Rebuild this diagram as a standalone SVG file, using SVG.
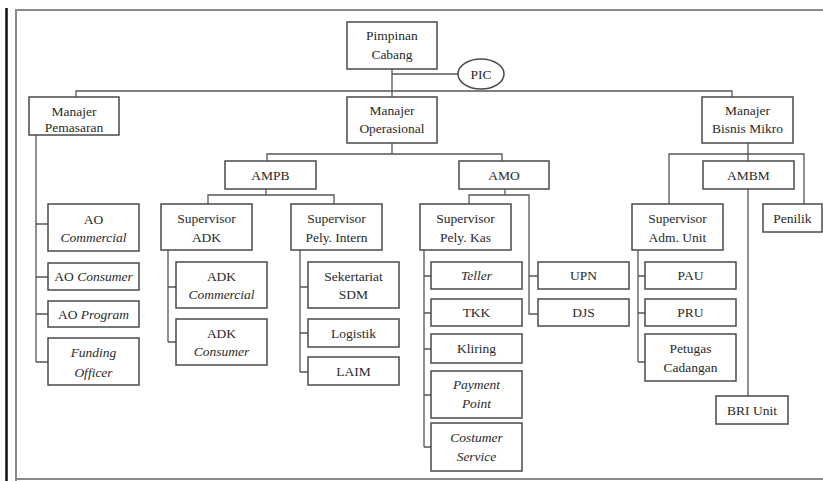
<svg xmlns="http://www.w3.org/2000/svg" width="823" height="481" viewBox="0 0 823 481">
<style>
.b{fill:#fff;stroke:#4a4a4a;stroke-width:1.5}
.t{font-family:'Liberation Serif','DejaVu Serif',serif;font-size:13.5px;fill:#2a2a2a;text-anchor:middle}
.i{font-style:italic}
.c{fill:none;stroke:#555;stroke-width:1.3}
</style>
<rect x="0" y="0" width="823" height="481" fill="#fff"/>
<line x1="6.5" y1="8" x2="6.5" y2="481" stroke="#111" stroke-width="2.5"/>
<path d="M16,481 V10 H830 M16,479 H830" fill="none" stroke="#8a8a8a" stroke-width="2"/>
<g id="connectors" class="c">
<path d="M392,69 V97 M392,74 H458"/>
<path d="M76,97 V91 H732 V97"/>
<path d="M392,143 V154 M267,161 V154 H502 V161"/>
<path d="M266,189 V195 M208,204 V195 H334 V204"/>
<path d="M505,189 V195 M469,204 V195 H529 V314 H538 M529,276 H538"/>
<path d="M748,143 V161 M669,204 V154 H804 V204 M748,189 V396"/>
<path d="M36,135 V362 M36,224 H48 M36,277 H48 M36,314 H48 M36,362 H48"/>
<path d="M168,250 V342 M168,287 H176 M168,342 H176"/>
<path d="M300,250 V372 M300,287 H308 M300,333 H308 M300,372 H308"/>
<path d="M424,250 V447 M424,276 H431 M424,313 H431 M424,349 H431 M424,395 H431 M424,447 H431"/>
<path d="M638,250 V362 M638,276 H645 M638,313 H645 M638,362 H645"/>
</g>
<g id="pimpinan"><rect class="b" x="347" y="22" width="90" height="47"/><text class="t" x="392" y="40">Pimpinan</text><text class="t" x="392" y="59">Cabang</text></g>
<g id="pic"><ellipse class="b" cx="481" cy="74" rx="23" ry="15"/><text class="t" x="481" y="78.5">PIC</text></g>
<g id="manajer-pemasaran"><rect class="b" x="29" y="97" width="90" height="38"/><text class="t" x="74" y="116">Manajer</text><text class="t" x="74" y="132">Pemasaran</text></g>
<g id="manajer-operasional"><rect class="b" x="347" y="97" width="90" height="46"/><text class="t" x="392" y="114.5">Manajer</text><text class="t" x="392" y="133">Operasional</text></g>
<g id="manajer-bisnis-mikro"><rect class="b" x="702" y="97" width="91" height="46"/><text class="t" x="747.5" y="114.5">Manajer</text><text class="t" x="747.5" y="133">Bisnis Mikro</text></g>
<g id="ampb"><rect class="b" x="225" y="161" width="91" height="28"/><text class="t" x="270.5" y="179.5">AMPB</text></g>
<g id="amo"><rect class="b" x="459" y="161" width="90" height="28"/><text class="t" x="504" y="179.5">AMO</text></g>
<g id="ambm"><rect class="b" x="703" y="161" width="91" height="28"/><text class="t" x="748.5" y="179.5">AMBM</text></g>
<g id="sup-adk"><rect class="b" x="161" y="204" width="91" height="46"/><text class="t" x="206.5" y="222.5">Supervisor</text><text class="t" x="206.5" y="241.5">ADK</text></g>
<g id="sup-pely-intern"><rect class="b" x="291" y="204" width="91" height="46"/><text class="t" x="336.5" y="222.5">Supervisor</text><text class="t" x="336.5" y="241.5">Pely. Intern</text></g>
<g id="sup-pely-kas"><rect class="b" x="420" y="204" width="91" height="46"/><text class="t" x="465.5" y="222.5">Supervisor</text><text class="t" x="465.5" y="241.5">Pely. Kas</text></g>
<g id="sup-adm-unit"><rect class="b" x="632" y="204" width="91" height="46"/><text class="t" x="677.5" y="222.5">Supervisor</text><text class="t" x="677.5" y="241.5">Adm. Unit</text></g>
<g id="penilik"><rect class="b" x="763" y="204" width="59" height="28"/><text class="t" x="792.5" y="222.5">Penilik</text></g>
<g id="ao-commercial"><rect class="b" x="48" y="204" width="91" height="47"/><text class="t" x="93.5" y="223.5">AO</text><text class="t i" x="93.5" y="241.5">Commercial</text></g>
<g id="ao-consumer"><rect class="b" x="48" y="263" width="91" height="27"/><text class="t" x="93.5" y="281"><tspan>AO </tspan><tspan class="i">Consumer</tspan></text></g>
<g id="ao-program"><rect class="b" x="48" y="301" width="91" height="26"/><text class="t" x="93.5" y="318.5"><tspan>AO </tspan><tspan class="i">Program</tspan></text></g>
<g id="funding-officer"><rect class="b" x="48" y="338" width="91" height="47"/><text class="t i" x="93.5" y="356.5">Funding</text><text class="t i" x="93.5" y="376.5">Officer</text></g>
<g id="adk-commercial"><rect class="b" x="176" y="262" width="91" height="46"/><text class="t" x="221.5" y="280.5">ADK</text><text class="t i" x="221.5" y="298.5">Commercial</text></g>
<g id="adk-consumer"><rect class="b" x="176" y="319" width="91" height="46"/><text class="t" x="221.5" y="337.5">ADK</text><text class="t i" x="221.5" y="355.5">Consumer</text></g>
<g id="sekertariat-sdm"><rect class="b" x="308" y="262" width="91" height="46"/><text class="t" x="353.5" y="280.5">Sekertariat</text><text class="t" x="353.5" y="298.5">SDM</text></g>
<g id="logistik"><rect class="b" x="308" y="319" width="91" height="28"/><text class="t" x="353.5" y="337.5">Logistik</text></g>
<g id="laim"><rect class="b" x="308" y="357" width="91" height="28"/><text class="t" x="353.5" y="375.5">LAIM</text></g>
<g id="teller"><rect class="b" x="431" y="262" width="91" height="27"/><text class="t i" x="476.5" y="280">Teller</text></g>
<g id="tkk"><rect class="b" x="431" y="299" width="91" height="27"/><text class="t" x="476.5" y="317">TKK</text></g>
<g id="kliring"><rect class="b" x="431" y="334" width="91" height="29"/><text class="t" x="476.5" y="353">Kliring</text></g>
<g id="payment-point"><rect class="b" x="431" y="371" width="91" height="47"/><text class="t i" x="476.5" y="388.5">Payment</text><text class="t i" x="476.5" y="407.5">Point</text></g>
<g id="costumer-service"><rect class="b" x="431" y="423" width="91" height="48"/><text class="t i" x="476.5" y="441.5">Costumer</text><text class="t i" x="476.5" y="460.5">Service</text></g>
<g id="upn"><rect class="b" x="538" y="262" width="91" height="27"/><text class="t" x="583.5" y="280">UPN</text></g>
<g id="djs"><rect class="b" x="538" y="299" width="91" height="27"/><text class="t" x="583.5" y="317">DJS</text></g>
<g id="pau"><rect class="b" x="645" y="262" width="91" height="27"/><text class="t" x="690.5" y="280">PAU</text></g>
<g id="pru"><rect class="b" x="645" y="299" width="91" height="27"/><text class="t" x="690.5" y="317">PRU</text></g>
<g id="petugas-cadangan"><rect class="b" x="645" y="334" width="91" height="47"/><text class="t" x="690.5" y="352.5">Petugas</text><text class="t" x="690.5" y="371.5">Cadangan</text></g>
<g id="bri-unit"><rect class="b" x="716" y="396" width="72" height="28"/><text class="t" x="752" y="414.5">BRI Unit</text></g>
</svg>
